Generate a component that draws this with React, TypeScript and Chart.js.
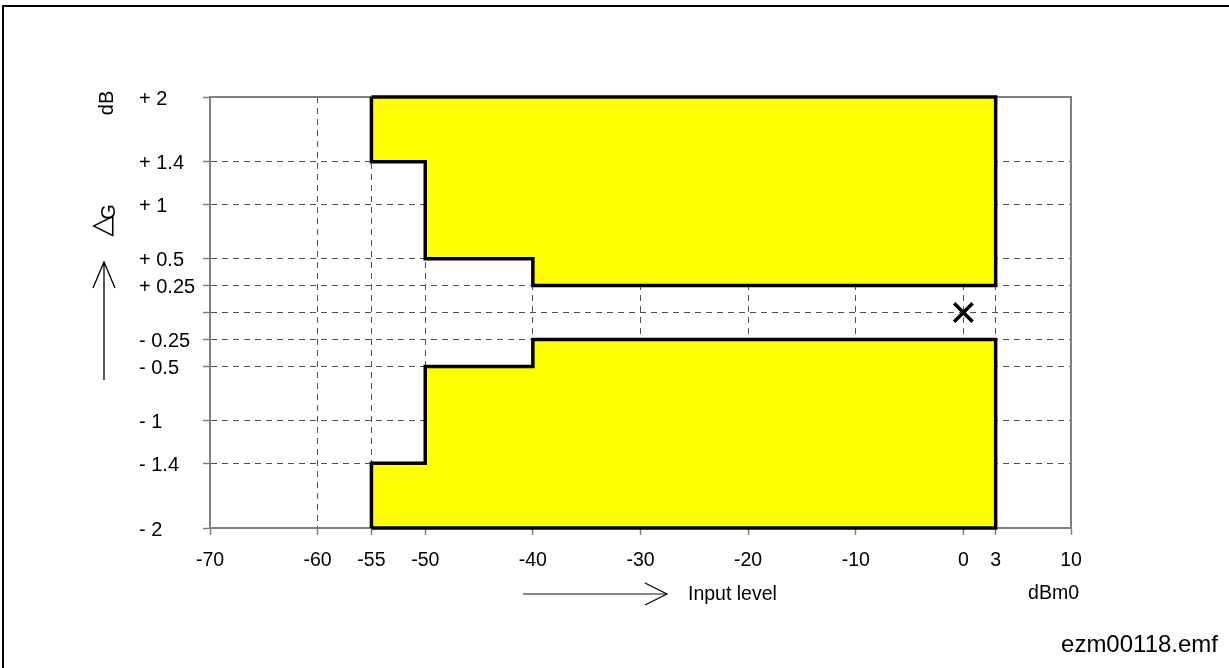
import React, { useEffect, useRef } from "react";
import { Chart, registerables } from "chart.js";

Chart.register(...registerables);

const xTicks = [-70, -60, -55, -50, -40, -30, -20, -10, 0, 3, 10];
const yTicks = [-2, -1.4, -1, -0.5, -0.25, 0, 0.25, 0.5, 1, 1.4, 2];

const upperX = [-55, 3, 3, -40, -40, -50, -50, -55, -55];
const upperY = [2, 2, 0.25, 0.25, 0.5, 0.5, 1.4, 1.4, 2];
const lowerX = [-55, 3, 3, -40, -40, -50, -50, -55, -55];
const lowerY = [-2, -2, -0.25, -0.25, -0.5, -0.5, -1.4, -1.4, -2];
const markX = [0];
const markY = [0];

const FONT = "'Liberation Sans', Arial, sans-serif";

const toPts = (xs: number[], ys: number[]) => xs.map((x, i) => ({ x, y: ys[i] }));

const decorPlugin = {
  id: "decor",
  beforeDatasetsDraw(chart: any) {
    const { ctx, chartArea } = chart;
    ctx.save();
    ctx.strokeStyle = "#808080";
    ctx.lineWidth = 2;
    ctx.beginPath();
    ctx.moveTo(chartArea.left, chartArea.top);
    ctx.lineTo(chartArea.right, chartArea.top);
    ctx.lineTo(chartArea.right, chartArea.bottom);
    ctx.stroke();
    ctx.restore();
  },
  afterDraw(chart: any) {
    const { ctx } = chart;
    ctx.save();
    // outer frame
    ctx.strokeStyle = "#000";
    ctx.lineWidth = 2;
    ctx.beginPath();
    ctx.moveTo(3, 668);
    ctx.lineTo(3, 6);
    ctx.lineTo(1229, 6);
    ctx.stroke();

    ctx.fillStyle = "#000";
    // dB rotated
    ctx.save();
    ctx.translate(107, 103);
    ctx.rotate(-Math.PI / 2);
    ctx.font = `20px ${FONT}`;
    ctx.textAlign = "center";
    ctx.textBaseline = "middle";
    ctx.fillText("dB", 0, 0);
    ctx.restore();

    // Delta G rotated
    ctx.save();
    ctx.translate(103, 226);
    ctx.rotate(-Math.PI / 2);
    ctx.font = `28px 'DejaVu Sans', sans-serif`;
    ctx.textAlign = "center";
    ctx.textBaseline = "middle";
    ctx.fillText("△", 0, 0);
    ctx.restore();
    ctx.save();
    ctx.translate(109, 212);
    ctx.rotate(-Math.PI / 2);
    ctx.font = `20px ${FONT}`;
    ctx.textAlign = "center";
    ctx.textBaseline = "middle";
    ctx.fillText("G", 0, 0);
    ctx.restore();

    // vertical arrow
    ctx.strokeStyle = "#000";
    ctx.lineWidth = 1.3;
    ctx.beginPath();
    ctx.moveTo(104, 380);
    ctx.lineTo(104, 262);
    ctx.moveTo(93, 288);
    ctx.lineTo(104, 262);
    ctx.lineTo(115, 288);
    ctx.stroke();

    // horizontal arrow
    ctx.strokeStyle = "#606060";
    ctx.lineWidth = 1.5;
    ctx.beginPath();
    ctx.moveTo(523, 594);
    ctx.lineTo(666, 594);
    ctx.stroke();
    ctx.strokeStyle = "#000";
    ctx.lineWidth = 1.2;
    ctx.beginPath();
    ctx.moveTo(645, 583);
    ctx.lineTo(667, 594);
    ctx.lineTo(645, 605);
    ctx.stroke();

    ctx.font = `19.5px ${FONT}`;
    ctx.textBaseline = "middle";
    ctx.textAlign = "left";
    ctx.fillText("Input level", 688, 595);
    ctx.textAlign = "center";
    ctx.fillText("dBm0", 1053.5, 594);
    ctx.font = `24px ${FONT}`;
    ctx.textAlign = "right";
    ctx.fillText("ezm00118.emf", 1218, 645);
    ctx.restore();
  },
};

export default function App() {
  const ref = useRef<HTMLCanvasElement | null>(null);

  useEffect(() => {
    if (!ref.current) return;
    const chart = new Chart(ref.current, {
      type: "scatter",
      data: {
        datasets: [
          {
            data: toPts(upperX, upperY),
            showLine: true,
            fill: "shape",
            backgroundColor: "#ffff00",
            borderColor: "#000",
            borderWidth: 3.5,
            borderJoinStyle: "miter",
            pointRadius: 0,
            tension: 0,
            clip: false,
          } as any,
          {
            data: toPts(lowerX, lowerY),
            showLine: true,
            fill: "shape",
            backgroundColor: "#ffff00",
            borderColor: "#000",
            borderWidth: 3.5,
            borderJoinStyle: "miter",
            pointRadius: 0,
            tension: 0,
            clip: false,
          } as any,
          {
            data: toPts(markX, markY),
            pointStyle: "crossRot",
            pointRadius: 13,
            borderWidth: 3.5,
            borderColor: "#000",
            backgroundColor: "#000",
            clip: false,
          } as any,
        ],
      },
      options: {
        animation: false,
        responsive: false,
        devicePixelRatio: 1,
        layout: { padding: { left: 139, top: 97, right: 158, bottom: 0 } },
        plugins: {
          legend: { display: false },
          tooltip: { enabled: false },
          title: { display: false },
        },
        scales: {
          x: {
            type: "linear",
            min: -70,
            max: 10,
            afterBuildTicks: (scale: any) => {
              scale.ticks = xTicks.map((v) => ({ value: v }));
            },
            afterFit: (scale: any) => {
              scale.height = 140;
            },
            ticks: {
              autoSkip: false,
              maxRotation: 0,
              minRotation: 0,
              padding: 14,
              color: "#000",
              font: { family: FONT, size: 19.5 },
              callback: (v: any) => String(v),
            },
            grid: {
              color: "#505050",
              lineWidth: 1,
              tickLength: 7,
              tickColor: "#808080",
              tickWidth: 1.5,
              tickBorderDash: [],
            },
            border: { display: true, color: "#808080", width: 2, dash: [6, 5] },
          },
          y: {
            type: "linear",
            min: -2,
            max: 2,
            afterBuildTicks: (scale: any) => {
              scale.ticks = yTicks.map((v) => ({ value: v }));
            },
            afterFit: (scale: any) => {
              scale.width = 71;
            },
            ticks: {
              autoSkip: false,
              crossAlign: "far",
              labelOffset: 2,
              color: "#000",
              font: { family: FONT, size: 20 },
              callback: (v: any) => {
                const n = Number(v);
                if (n === 0) return "";
                return (n > 0 ? "+ " : "- ") + String(Math.abs(n));
              },
            },
            grid: {
              color: "#505050",
              lineWidth: 1,
              tickLength: 7,
              tickColor: "#808080",
              tickWidth: 1.5,
              tickBorderDash: [],
            },
            border: { display: true, color: "#808080", width: 2, dash: [6, 5] },
          },
        },
      } as any,
      plugins: [decorPlugin],
    });
    return () => chart.destroy();
  }, []);

  return (
    <div style={{ position: "fixed", left: 0, top: 0, width: 1229, height: 668, background: "#fff" }}>
      <canvas ref={ref} width={1229} height={668} style={{ display: "block" }} />
    </div>
  );
}
